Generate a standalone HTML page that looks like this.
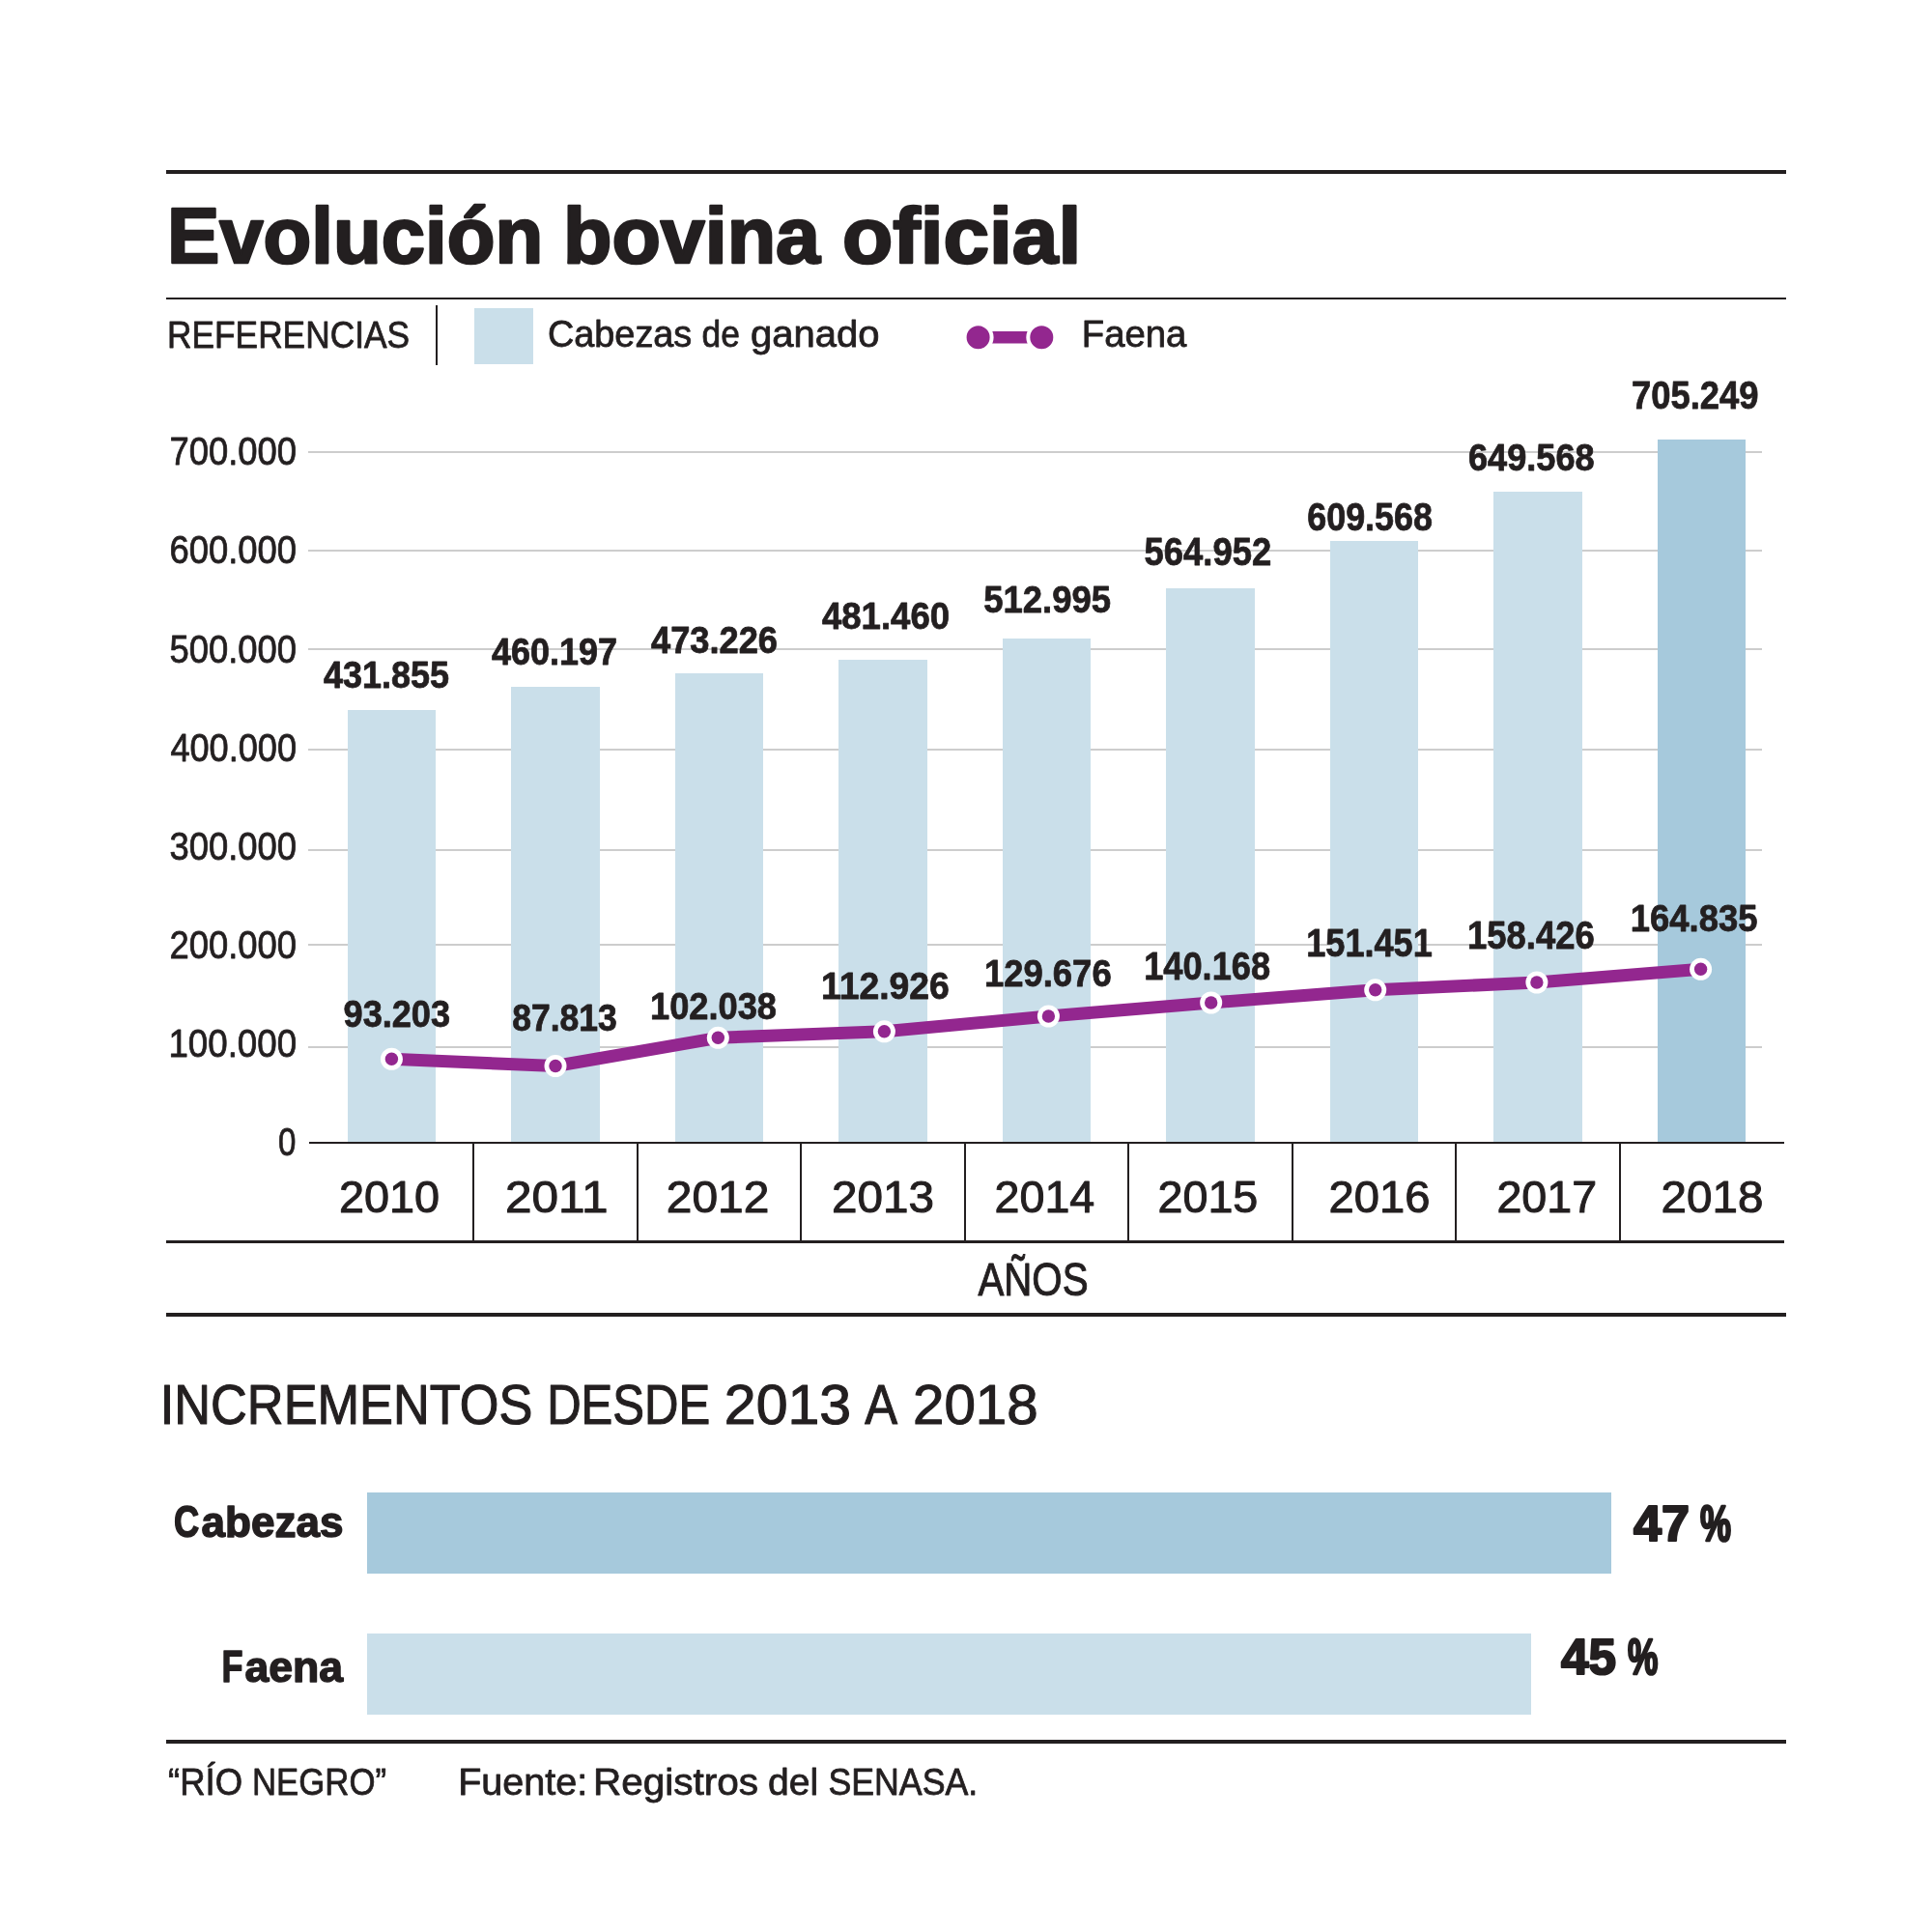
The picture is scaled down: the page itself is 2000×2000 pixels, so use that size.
<!DOCTYPE html>
<html><head><meta charset="utf-8"><title>Evolución bovina oficial</title>
<style>html,body{margin:0;padding:0;background:#fff;width:2000px;height:2000px;overflow:hidden}svg{display:block;will-change:transform;font-family:"Liberation Sans",sans-serif}</style></head>
<body><svg width="2000" height="2000" viewBox="0 0 2000 2000" fill="#231f20">
<rect width="2000" height="2000" fill="#fff"/>
<rect x="172" y="176" width="1677" height="4" fill="#231f20"/>
<rect x="172" y="308" width="1677" height="2" fill="#231f20"/>
<rect x="451" y="316" width="2" height="62" fill="#231f20"/>
<rect x="491" y="319" width="61" height="58" fill="#cadfea"/>
<rect x="1020" y="343" width="51" height="12.5" fill="#93278f"/>
<circle cx="1012.6" cy="349.2" r="14" fill="#93278f" stroke="#fff" stroke-width="4"/><circle cx="1078.3" cy="349.2" r="14" fill="#93278f" stroke="#fff" stroke-width="4"/>
<rect x="319" y="467" width="1505" height="2" fill="#cdcdcd"/>
<rect x="319" y="569" width="1505" height="2" fill="#cdcdcd"/>
<rect x="319" y="671" width="1505" height="2" fill="#cdcdcd"/>
<rect x="319" y="775" width="1505" height="2" fill="#cdcdcd"/>
<rect x="319" y="879" width="1505" height="2" fill="#cdcdcd"/>
<rect x="319" y="977" width="1505" height="2" fill="#cdcdcd"/>
<rect x="319" y="1083" width="1505" height="2" fill="#cdcdcd"/>
<rect x="360" y="735" width="91" height="448" fill="#cadfea"/>
<rect x="529" y="711" width="92" height="472" fill="#cadfea"/>
<rect x="699" y="697" width="91" height="486" fill="#cadfea"/>
<rect x="868" y="683" width="92" height="500" fill="#cadfea"/>
<rect x="1038" y="661" width="91" height="522" fill="#cadfea"/>
<rect x="1207" y="609" width="92" height="574" fill="#cadfea"/>
<rect x="1377" y="560" width="91" height="623" fill="#cadfea"/>
<rect x="1546" y="509" width="92" height="674" fill="#cadfea"/>
<rect x="1716" y="455" width="91" height="728" fill="#a6c9dc"/>
<rect x="320" y="1182" width="1527" height="2" fill="#231f20"/>
<rect x="489" y="1184" width="2" height="101" fill="#231f20"/>
<rect x="659" y="1184" width="2" height="101" fill="#231f20"/>
<rect x="828" y="1184" width="2" height="101" fill="#231f20"/>
<rect x="998" y="1184" width="2" height="101" fill="#231f20"/>
<rect x="1167" y="1184" width="2" height="101" fill="#231f20"/>
<rect x="1337" y="1184" width="2" height="101" fill="#231f20"/>
<rect x="1506" y="1184" width="2" height="101" fill="#231f20"/>
<rect x="1676" y="1184" width="2" height="101" fill="#231f20"/>
<rect x="172" y="1284" width="1675" height="3" fill="#231f20"/>
<rect x="172" y="1359" width="1677" height="4" fill="#231f20"/>
<polyline points="405.4,1096.3 575,1103.5 743.3,1074.3 915.4,1067.8 1085.4,1052 1253.7,1038 1423.7,1024.8 1590.9,1017 1760.6,1003.3" fill="none" stroke="#93278f" stroke-width="13" stroke-linejoin="round"/>
<circle cx="405.4" cy="1096.3" r="11.5" fill="#fff"/><circle cx="405.4" cy="1096.3" r="6.7" fill="#93278f"/>
<circle cx="575" cy="1103.5" r="11.5" fill="#fff"/><circle cx="575" cy="1103.5" r="6.7" fill="#93278f"/>
<circle cx="743.3" cy="1074.3" r="11.5" fill="#fff"/><circle cx="743.3" cy="1074.3" r="6.7" fill="#93278f"/>
<circle cx="915.4" cy="1067.8" r="11.5" fill="#fff"/><circle cx="915.4" cy="1067.8" r="6.7" fill="#93278f"/>
<circle cx="1085.4" cy="1052" r="11.5" fill="#fff"/><circle cx="1085.4" cy="1052" r="6.7" fill="#93278f"/>
<circle cx="1253.7" cy="1038" r="11.5" fill="#fff"/><circle cx="1253.7" cy="1038" r="6.7" fill="#93278f"/>
<circle cx="1423.7" cy="1024.8" r="11.5" fill="#fff"/><circle cx="1423.7" cy="1024.8" r="6.7" fill="#93278f"/>
<circle cx="1590.9" cy="1017" r="11.5" fill="#fff"/><circle cx="1590.9" cy="1017" r="6.7" fill="#93278f"/>
<circle cx="1760.6" cy="1003.3" r="11.5" fill="#fff"/><circle cx="1760.6" cy="1003.3" r="6.7" fill="#93278f"/>
<rect x="380" y="1545" width="1288" height="84" fill="#a6c9dc"/>
<rect x="380" y="1691" width="1205" height="84" fill="#cadfea"/>
<rect x="172" y="1801" width="1677" height="4" fill="#231f20"/>
<text x="173.00" y="271.75" font-size="80.67" font-weight="700" textLength="389.13" lengthAdjust="spacingAndGlyphs" stroke="#231f20" stroke-width="2.5" stroke-linejoin="round">Evolución</text>
<text x="583.00" y="271.75" font-size="80.67" font-weight="700" textLength="266.02" lengthAdjust="spacingAndGlyphs" stroke="#231f20" stroke-width="2.5" stroke-linejoin="round">bovina</text>
<text x="872.00" y="271.75" font-size="80.67" font-weight="700" textLength="247.18" lengthAdjust="spacingAndGlyphs" stroke="#231f20" stroke-width="2.5" stroke-linejoin="round">oficial</text>
<text x="173.00" y="359.60" font-size="39.54" font-weight="400" textLength="251.03" lengthAdjust="spacingAndGlyphs" stroke="#231f20" stroke-width="0.8" stroke-linejoin="round">REFERENCIAS</text>
<text x="567.00" y="358.60" font-size="38.08" font-weight="400" textLength="149.22" lengthAdjust="spacingAndGlyphs" stroke="#231f20" stroke-width="0.8" stroke-linejoin="round">Cabezas</text>
<text x="726.60" y="358.60" font-size="38.08" font-weight="400" textLength="39.30" lengthAdjust="spacingAndGlyphs" stroke="#231f20" stroke-width="0.8" stroke-linejoin="round">de</text>
<text x="777.00" y="358.60" font-size="38.08" font-weight="400" textLength="133.44" lengthAdjust="spacingAndGlyphs" stroke="#231f20" stroke-width="0.8" stroke-linejoin="round">ganado</text>
<text x="1119.80" y="358.60" font-size="38.08" font-weight="400" textLength="108.63" lengthAdjust="spacingAndGlyphs" stroke="#231f20" stroke-width="0.8" stroke-linejoin="round">Faena</text>
<text x="175.40" y="481.30" font-size="40.41" font-weight="400" textLength="131.64" lengthAdjust="spacingAndGlyphs" stroke="#231f20" stroke-width="0.8" stroke-linejoin="round">700.000</text>
<text x="175.40" y="583.40" font-size="40.41" font-weight="400" textLength="131.64" lengthAdjust="spacingAndGlyphs" stroke="#231f20" stroke-width="0.8" stroke-linejoin="round">600.000</text>
<text x="175.40" y="685.60" font-size="40.41" font-weight="400" textLength="131.64" lengthAdjust="spacingAndGlyphs" stroke="#231f20" stroke-width="0.8" stroke-linejoin="round">500.000</text>
<text x="176.40" y="787.70" font-size="40.41" font-weight="400" textLength="130.62" lengthAdjust="spacingAndGlyphs" stroke="#231f20" stroke-width="0.8" stroke-linejoin="round">400.000</text>
<text x="175.40" y="889.80" font-size="40.41" font-weight="400" textLength="131.63" lengthAdjust="spacingAndGlyphs" stroke="#231f20" stroke-width="0.8" stroke-linejoin="round">300.000</text>
<text x="175.40" y="992.00" font-size="40.41" font-weight="400" textLength="131.64" lengthAdjust="spacingAndGlyphs" stroke="#231f20" stroke-width="0.8" stroke-linejoin="round">200.000</text>
<text x="174.40" y="1094.10" font-size="40.41" font-weight="400" textLength="132.69" lengthAdjust="spacingAndGlyphs" stroke="#231f20" stroke-width="0.8" stroke-linejoin="round">100.000</text>
<text x="288.00" y="1196.20" font-size="40.41" font-weight="400" textLength="18.38" lengthAdjust="spacingAndGlyphs" stroke="#231f20" stroke-width="0.8" stroke-linejoin="round">0</text>
<text x="335.00" y="712.10" font-size="38.81" font-weight="700" textLength="130.00" lengthAdjust="spacingAndGlyphs" stroke="#231f20" stroke-width="0.8" stroke-linejoin="round">431.855</text>
<text x="509.00" y="688.00" font-size="39.10" font-weight="700" textLength="130.01" lengthAdjust="spacingAndGlyphs" stroke="#231f20" stroke-width="0.8" stroke-linejoin="round">460.197</text>
<text x="674.00" y="676.30" font-size="39.10" font-weight="700" textLength="131.01" lengthAdjust="spacingAndGlyphs" stroke="#231f20" stroke-width="0.8" stroke-linejoin="round">473.226</text>
<text x="851.00" y="650.60" font-size="38.81" font-weight="700" textLength="132.01" lengthAdjust="spacingAndGlyphs" stroke="#231f20" stroke-width="0.8" stroke-linejoin="round">481.460</text>
<text x="1018.20" y="633.90" font-size="38.95" font-weight="700" textLength="131.80" lengthAdjust="spacingAndGlyphs" stroke="#231f20" stroke-width="0.8" stroke-linejoin="round">512.995</text>
<text x="1184.60" y="585.40" font-size="39.97" font-weight="700" textLength="131.62" lengthAdjust="spacingAndGlyphs" stroke="#231f20" stroke-width="0.8" stroke-linejoin="round">564.952</text>
<text x="1353.20" y="549.20" font-size="39.97" font-weight="700" textLength="129.82" lengthAdjust="spacingAndGlyphs" stroke="#231f20" stroke-width="0.8" stroke-linejoin="round">609.568</text>
<text x="1520.00" y="487.20" font-size="38.37" font-weight="700" textLength="130.62" lengthAdjust="spacingAndGlyphs" stroke="#231f20" stroke-width="0.8" stroke-linejoin="round">649.568</text>
<text x="1689.00" y="423.10" font-size="39.97" font-weight="700" textLength="131.63" lengthAdjust="spacingAndGlyphs" stroke="#231f20" stroke-width="0.8" stroke-linejoin="round">705.249</text>
<text x="355.60" y="1063.00" font-size="38.37" font-weight="700" textLength="110.43" lengthAdjust="spacingAndGlyphs" stroke="#231f20" stroke-width="0.8" stroke-linejoin="round">93.203</text>
<text x="530.20" y="1067.40" font-size="38.37" font-weight="700" textLength="108.62" lengthAdjust="spacingAndGlyphs" stroke="#231f20" stroke-width="0.8" stroke-linejoin="round">87.813</text>
<text x="673.00" y="1054.60" font-size="39.54" font-weight="700" textLength="131.04" lengthAdjust="spacingAndGlyphs" stroke="#231f20" stroke-width="0.8" stroke-linejoin="round">102.038</text>
<text x="850.00" y="1033.80" font-size="39.54" font-weight="700" textLength="132.87" lengthAdjust="spacingAndGlyphs" stroke="#231f20" stroke-width="0.8" stroke-linejoin="round">112.926</text>
<text x="1019.00" y="1020.80" font-size="39.39" font-weight="700" textLength="131.64" lengthAdjust="spacingAndGlyphs" stroke="#231f20" stroke-width="0.8" stroke-linejoin="round">129.676</text>
<text x="1184.20" y="1014.10" font-size="40.26" font-weight="700" textLength="130.83" lengthAdjust="spacingAndGlyphs" stroke="#231f20" stroke-width="0.8" stroke-linejoin="round">140.168</text>
<text x="1352.20" y="990.00" font-size="39.83" font-weight="700" textLength="130.63" lengthAdjust="spacingAndGlyphs" stroke="#231f20" stroke-width="0.8" stroke-linejoin="round">151.451</text>
<text x="1519.00" y="982.20" font-size="39.83" font-weight="700" textLength="131.64" lengthAdjust="spacingAndGlyphs" stroke="#231f20" stroke-width="0.8" stroke-linejoin="round">158.426</text>
<text x="1687.80" y="964.40" font-size="39.54" font-weight="700" textLength="131.63" lengthAdjust="spacingAndGlyphs" stroke="#231f20" stroke-width="0.8" stroke-linejoin="round">164.835</text>
<text x="351.00" y="1254.50" font-size="46.80" font-weight="400" textLength="104.09" lengthAdjust="spacingAndGlyphs" stroke="#231f20" stroke-width="1.0" stroke-linejoin="round">2010</text>
<text x="523.00" y="1254.50" font-size="46.80" font-weight="400" textLength="106.54" lengthAdjust="spacingAndGlyphs" stroke="#231f20" stroke-width="1.0" stroke-linejoin="round">2011</text>
<text x="689.80" y="1254.50" font-size="46.80" font-weight="400" textLength="106.51" lengthAdjust="spacingAndGlyphs" stroke="#231f20" stroke-width="1.0" stroke-linejoin="round">2012</text>
<text x="861.00" y="1254.50" font-size="46.80" font-weight="400" textLength="105.92" lengthAdjust="spacingAndGlyphs" stroke="#231f20" stroke-width="1.0" stroke-linejoin="round">2013</text>
<text x="1029.60" y="1254.50" font-size="46.80" font-weight="400" textLength="103.66" lengthAdjust="spacingAndGlyphs" stroke="#231f20" stroke-width="1.0" stroke-linejoin="round">2014</text>
<text x="1198.60" y="1254.50" font-size="46.80" font-weight="400" textLength="103.70" lengthAdjust="spacingAndGlyphs" stroke="#231f20" stroke-width="1.0" stroke-linejoin="round">2015</text>
<text x="1375.60" y="1254.50" font-size="46.80" font-weight="400" textLength="104.89" lengthAdjust="spacingAndGlyphs" stroke="#231f20" stroke-width="1.0" stroke-linejoin="round">2016</text>
<text x="1549.40" y="1254.50" font-size="46.80" font-weight="400" textLength="103.68" lengthAdjust="spacingAndGlyphs" stroke="#231f20" stroke-width="1.0" stroke-linejoin="round">2017</text>
<text x="1719.60" y="1254.50" font-size="46.80" font-weight="400" textLength="105.72" lengthAdjust="spacingAndGlyphs" stroke="#231f20" stroke-width="1.0" stroke-linejoin="round">2018</text>
<text x="1012.40" y="1341.30" font-size="47.53" font-weight="400" textLength="114.21" lengthAdjust="spacingAndGlyphs" stroke="#231f20" stroke-width="1.0" stroke-linejoin="round">AÑOS</text>
<text x="165.80" y="1474.15" font-size="56.69" font-weight="400" textLength="385.49" lengthAdjust="spacingAndGlyphs" stroke="#231f20" stroke-width="1.1" stroke-linejoin="round">INCREMENTOS</text>
<text x="566.20" y="1474.15" font-size="56.69" font-weight="400" textLength="168.96" lengthAdjust="spacingAndGlyphs" stroke="#231f20" stroke-width="1.1" stroke-linejoin="round">DESDE</text>
<text x="749.80" y="1474.15" font-size="56.69" font-weight="400" textLength="131.34" lengthAdjust="spacingAndGlyphs" stroke="#231f20" stroke-width="1.1" stroke-linejoin="round">2013</text>
<text x="895.20" y="1474.15" font-size="56.69" font-weight="400" textLength="33.82" lengthAdjust="spacingAndGlyphs" stroke="#231f20" stroke-width="1.1" stroke-linejoin="round">A</text>
<text x="945.00" y="1474.15" font-size="56.69" font-weight="400" textLength="129.72" lengthAdjust="spacingAndGlyphs" stroke="#231f20" stroke-width="1.1" stroke-linejoin="round">2018</text>
<text x="180.00" y="1590.95" font-size="46.80" font-weight="700" textLength="26.26" lengthAdjust="spacingAndGlyphs" stroke="#231f20" stroke-width="1.5" stroke-linejoin="round">C</text>
<text x="208.60" y="1590.95" font-size="44.62" font-weight="700" textLength="146.81" lengthAdjust="spacingAndGlyphs" stroke="#231f20" stroke-width="1.5" stroke-linejoin="round">abezas</text>
<text x="229.40" y="1741.25" font-size="46.66" font-weight="700" textLength="22.02" lengthAdjust="spacingAndGlyphs" stroke="#231f20" stroke-width="1.5" stroke-linejoin="round">F</text>
<text x="253.40" y="1741.25" font-size="44.62" font-weight="700" textLength="101.61" lengthAdjust="spacingAndGlyphs" stroke="#231f20" stroke-width="1.5" stroke-linejoin="round">aena</text>
<text x="1691.00" y="1595.30" font-size="51.89" font-weight="700" textLength="58.02" lengthAdjust="spacingAndGlyphs" stroke="#231f20" stroke-width="2.2" stroke-linejoin="round">47</text>
<text x="1760.00" y="1595.10" font-size="51.31" font-weight="700" textLength="32.02" lengthAdjust="spacingAndGlyphs" stroke="#231f20" stroke-width="2.6" stroke-linejoin="round">%</text>
<text x="1616.00" y="1733.20" font-size="52.18" font-weight="700" textLength="57.00" lengthAdjust="spacingAndGlyphs" stroke="#231f20" stroke-width="2.2" stroke-linejoin="round">45</text>
<text x="1685.00" y="1733.00" font-size="51.60" font-weight="700" textLength="31.42" lengthAdjust="spacingAndGlyphs" stroke="#231f20" stroke-width="2.6" stroke-linejoin="round">%</text>
<text x="174.00" y="1858.30" font-size="39.39" font-weight="400" textLength="77.03" lengthAdjust="spacingAndGlyphs" stroke="#231f20" stroke-width="0.8" stroke-linejoin="round">“RÍO</text>
<text x="261.00" y="1858.30" font-size="39.39" font-weight="400" textLength="139.07" lengthAdjust="spacingAndGlyphs" stroke="#231f20" stroke-width="0.8" stroke-linejoin="round">NEGRO”</text>
<text x="474.20" y="1857.90" font-size="38.52" font-weight="400" textLength="134.04" lengthAdjust="spacingAndGlyphs" stroke="#231f20" stroke-width="0.8" stroke-linejoin="round">Fuente:</text>
<text x="614.00" y="1857.90" font-size="38.52" font-weight="400" textLength="171.08" lengthAdjust="spacingAndGlyphs" stroke="#231f20" stroke-width="0.8" stroke-linejoin="round">Registros</text>
<text x="795.00" y="1857.90" font-size="38.52" font-weight="400" textLength="52.14" lengthAdjust="spacingAndGlyphs" stroke="#231f20" stroke-width="0.8" stroke-linejoin="round">del</text>
<text x="857.40" y="1857.90" font-size="38.52" font-weight="400" textLength="154.91" lengthAdjust="spacingAndGlyphs" stroke="#231f20" stroke-width="0.8" stroke-linejoin="round">SENASA.</text>
</svg></body></html>
